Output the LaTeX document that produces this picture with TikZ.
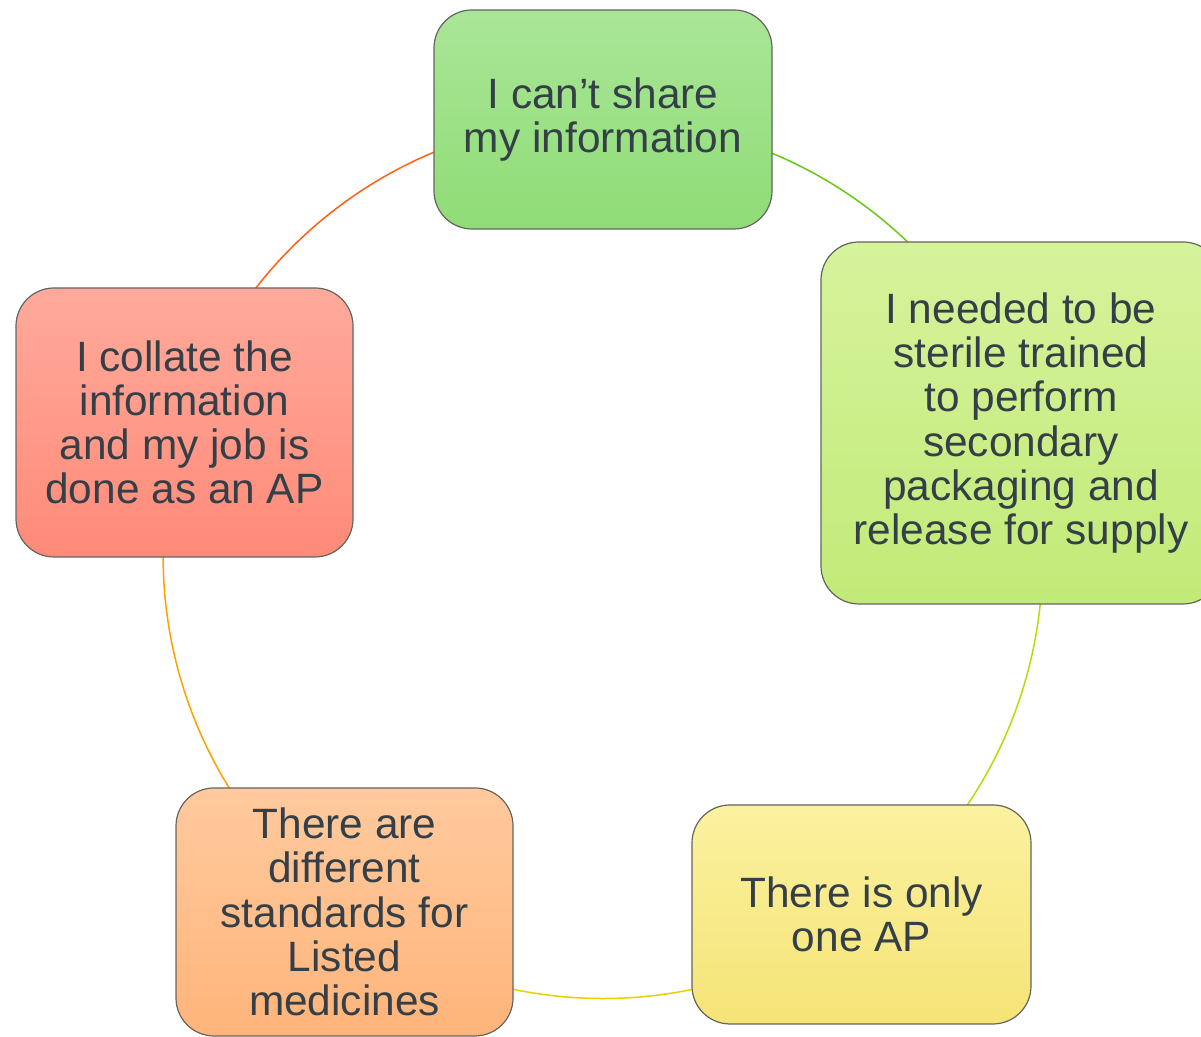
\documentclass[tikz,border=0pt]{standalone}
\usepackage{fontspec}
\setmainfont{Liberation Sans}
\usetikzlibrary{backgrounds}
\definecolor{txt}{RGB}{52,63,72}
\definecolor{edge}{RGB}{100,100,96}
\definecolor{gAt}{RGB}{170,230,152}\definecolor{gAb}{RGB}{143,220,118}
\definecolor{gBt}{RGB}{214,243,156}\definecolor{gBb}{RGB}{194,234,120}
\definecolor{yCt}{RGB}{251,241,160}\definecolor{yCb}{RGB}{245,228,118}
\definecolor{oDt}{RGB}{255,202,158}\definecolor{oDb}{RGB}{255,180,122}
\definecolor{rEt}{RGB}{255,170,156}\definecolor{rEb}{RGB}{255,138,120}
\definecolor{arcA}{RGB}{104,200,20}
\definecolor{arcB}{RGB}{180,220,10}
\definecolor{arcC}{RGB}{230,208,0}
\definecolor{arcD}{RGB}{255,160,0}
\definecolor{arcE}{RGB}{255,96,20}
\tikzset{
  box/.style={draw=edge, line width=0.6pt, rounded corners=19pt, align=center,
    text=txt, font=\fontsize{21.2}{22.1}\selectfont, inner sep=0pt},
  ring/.style={line width=0.75pt}
}
\begin{document}
\begin{tikzpicture}[x=0.5pt,y=0.5pt]
\useasboundingbox (0,0) rectangle (1201,1037);
\coordinate (ctr) at (603,479);
\node[box, minimum width=169pt, minimum height=109.5pt, top color=gAt, bottom color=gAb]
  (top) at (603,917.5) {I can’t share\\my information};
\node[box, minimum width=200pt, minimum height=181pt, top color=gBt, bottom color=gBb]
  (right) at (1021,614) {I needed to be\\sterile trained\\to perform\\secondary\\packaging and\\release for supply};
\node[box, minimum width=169.5pt, minimum height=109.5pt, top color=yCt, bottom color=yCb]
  (yel) at (861.5,122.5) {There is only\\one AP};
\node[box, minimum width=168.5pt, minimum height=124pt, top color=oDt, bottom color=oDb]
  (ora) at (344.5,125) {There are\\different\\standards for\\Listed\\medicines};
\node[box, minimum width=168.5pt, minimum height=134.5pt, top color=rEt, bottom color=rEb]
  (red) at (184.5,614.5) {I collate the\\information\\and my job is\\done as an AP};
\begin{scope}[on background layer]
  \draw[ring, arcA] (top.center) arc[start angle=90, end angle=18, radius=440];
  \draw[ring, arcB] (right.center) arc[start angle=18, end angle=-54, radius=440];
  \draw[ring, arcC] (yel.center) arc[start angle=-54, end angle=-126, radius=440];
  \draw[ring, arcD] (ora.center) arc[start angle=234, end angle=162, radius=440];
  \draw[ring, arcE] (red.center) arc[start angle=162, end angle=90, radius=440];
\end{scope}
\end{tikzpicture}
\end{document}
